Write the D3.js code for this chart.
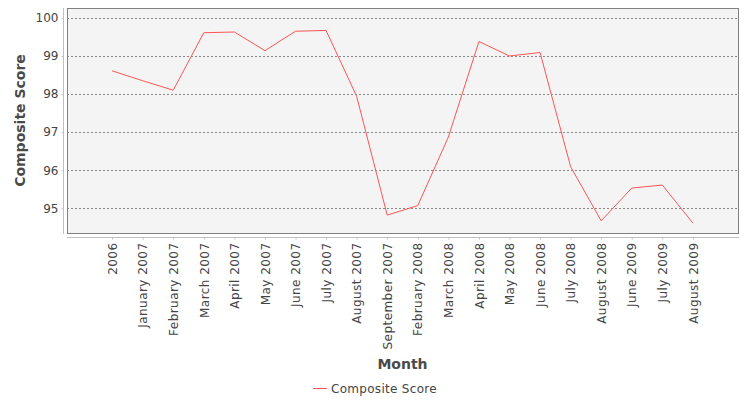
<!DOCTYPE html>
<html>
<head>
<meta charset="utf-8">
<script src="https://cdn.jsdelivr.net/npm/d3@7"></script>
<style>
  html, body { margin: 0; padding: 0; background: #ffffff; }
  svg { display: block; font-family: "DejaVu Sans", sans-serif; }
</style>
</head>
<body>
<svg id="chart" width="750" height="400"></svg>
<script>
const months = ["2006", "January 2007", "February 2007", "March 2007", "April 2007", "May 2007",
  "June 2007", "July 2007", "August 2007", "September 2007", "February 2008", "March 2008",
  "April 2008", "May 2008", "June 2008", "July 2008", "August 2008", "June 2009", "July 2009", "August 2009"];
const compositeScore = [98.61, 98.35, 98.10, 99.61, 99.63, 99.14, 99.65, 99.67, 97.94, 94.82,
  95.07, 96.87, 99.38, 99.00, 99.09, 96.09, 94.67, 95.53, 95.61, 94.61];
const yTicks = [95, 96, 97, 98, 99, 100];
const seriesName = "Composite Score";
const xTitle = "Month";
const yTitle = "Composite Score";

const svg = d3.select("#chart");
const plot = { left: 67, top: 8, right: 738, bottom: 233 };

const x = d3.scalePoint().domain(months).range([plot.left, plot.right]).padding(1.475);
const y = d3.scaleLinear().domain([94.35, 100.26]).range([plot.bottom, plot.top]);

// plot background
svg.append("rect")
  .attr("x", plot.left + 0.5).attr("y", plot.top + 0.5)
  .attr("width", plot.right - plot.left).attr("height", plot.bottom - plot.top)
  .attr("fill", "#f4f4f4");

// gridlines
svg.append("g").selectAll("line").data(yTicks).join("line")
  .attr("x1", plot.left).attr("x2", plot.right)
  .attr("y1", d => Math.round(y(d)) + 0.5).attr("y2", d => Math.round(y(d)) + 0.5)
  .attr("stroke", "#888").attr("stroke-width", 1).attr("stroke-dasharray", "2,2");

// frame
svg.append("rect")
  .attr("x", plot.left + 0.5).attr("y", plot.top + 0.5)
  .attr("width", plot.right - plot.left).attr("height", plot.bottom - plot.top)
  .attr("fill", "none").attr("stroke", "#808080").attr("stroke-width", 1);

// y axis
const yAxis = d3.axisLeft(y).tickValues(yTicks).tickSize(2).tickPadding(3).tickFormat(d3.format("d"));
const gy = svg.append("g").attr("transform", "translate(63.5,0)").call(yAxis);
gy.select(".domain").attr("stroke", "#c0c0c0").attr("d", `M0,${plot.top}V${plot.bottom + 1}`);
gy.selectAll(".tick line").attr("stroke", "#c0c0c0");
gy.selectAll(".tick text").attr("fill", "#444").style("font-size", "12px").style("font-family", "DejaVu Sans, sans-serif");

// x axis
const xAxis = d3.axisBottom(x).tickSize(2).tickSizeOuter(0).tickPadding(3);
const gx = svg.append("g").attr("transform", "translate(0,237.5)").call(xAxis);
gx.select(".domain").attr("stroke", "#c0c0c0").attr("d", `M${plot.left},0H${plot.right + 1}`);
gx.selectAll(".tick line").attr("stroke", "#c0c0c0");
gx.selectAll(".tick text")
  .attr("fill", "#444").style("font-size", "12px").style("font-family", "DejaVu Sans, sans-serif")
  .style("letter-spacing", "0.45px")
  .attr("transform", "rotate(-90)")
  .attr("text-anchor", "end")
  .attr("x", -5).attr("y", 0).attr("dy", "0.35em");

// line
const line = d3.line().x((d, i) => x(months[i])).y(d => y(d));
svg.append("path").datum(compositeScore)
  .attr("d", line).attr("fill", "none").attr("stroke", "#ff5555").attr("stroke-width", 1);

// axis titles
svg.append("text").attr("x", (plot.left + plot.right) / 2).attr("y", 369)
  .attr("text-anchor", "middle").attr("fill", "#4a4a4a").style("font-size", "14px").style("font-weight", "bold")
  .text(xTitle);
svg.append("text").attr("transform", `translate(25,${(plot.top + plot.bottom) / 2}) rotate(-90)`)
  .attr("text-anchor", "middle").attr("fill", "#4a4a4a").style("font-size", "14px").style("font-weight", "bold")
  .text(yTitle);

// legend
svg.append("line").attr("x1", 313).attr("x2", 327).attr("y1", 388.5).attr("y2", 388.5)
  .attr("stroke", "#ff5555").attr("stroke-width", 1);
svg.append("text").attr("x", 331).attr("y", 392.5).attr("fill", "#444").style("font-size", "12px")
  .style("letter-spacing", "0.3px")
  .text(seriesName);
</script>
</body>
</html>
